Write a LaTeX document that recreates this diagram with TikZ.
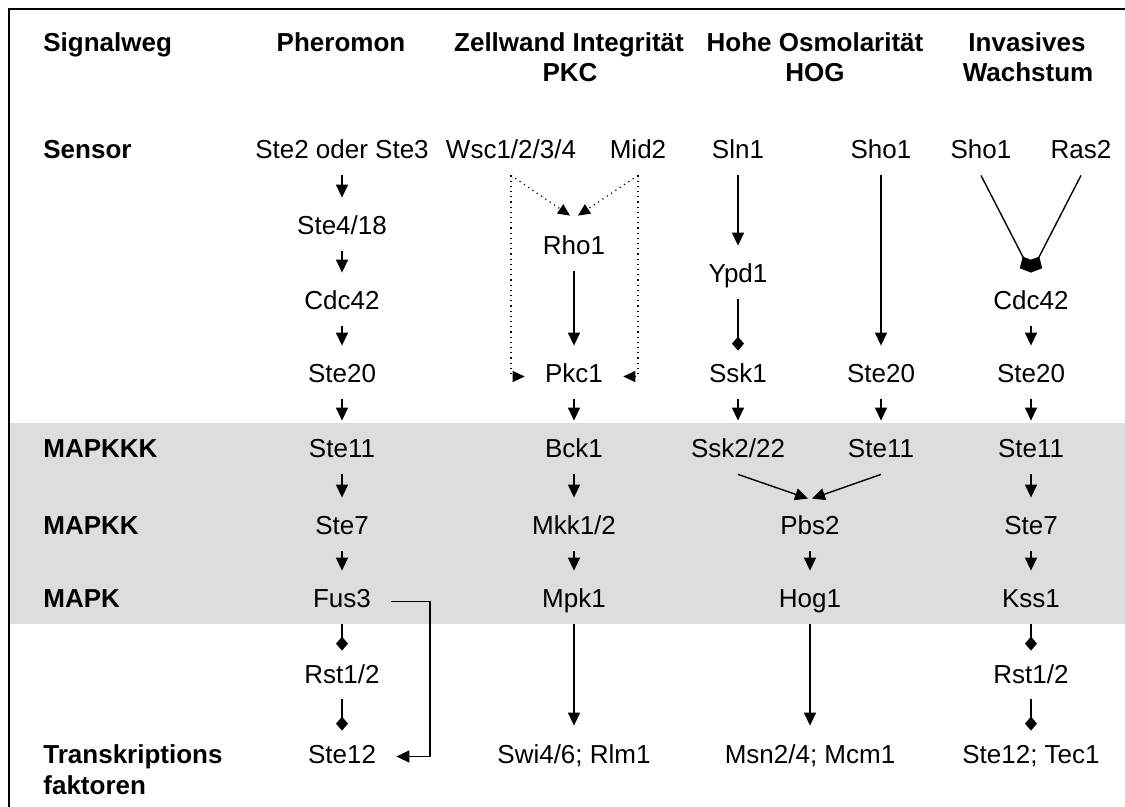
\documentclass[tikz,border=0pt]{standalone}
\usepackage{fontspec}
\setmainfont{Liberation Sans}
\usetikzlibrary{arrows.meta,calc}
\definecolor{bandgray}{RGB}{221,221,221}

\begin{document}
\begin{tikzpicture}[x=0.5pt,y=-0.5pt,
  txt/.style={font=\fontsize{13pt}{15pt}\selectfont,text height=9pt,text depth=2.5pt,inner xsep=2pt,inner ysep=5.5pt,anchor=base},
  hd/.style={txt,font=\fontsize{13pt}{15pt}\selectfont\bfseries},
  rowlbl/.style={hd,anchor=base west},
  act/.style={-{Triangle[length=6.5pt,width=6pt]},line width=0.7pt,shorten >=4pt},
  dia/.style={-{Diamond[length=7pt,width=6pt]},line width=0.7pt,shorten >=1.5pt},
  dotact/.style={dotted,line width=0.6pt,-{Triangle[length=6pt,width=5.5pt]}}]
\clip (0,0) rectangle (1125,807);
\fill[bandgray] (9,423) rectangle (1125,624);
\draw[line width=1pt] (9,9) rectangle (1140,820);

% Kopfzeile
\node[rowlbl] (hsig)  at (39,52)   {Signalweg};
\node[hd]     (hpher) at (341,52)  {Pheromon};
\node[hd]     (hzell) at (569,52)  {Zellwand Integrität};
\node[hd]     (hpkc)  at (570,82)  {PKC};
\node[hd]     (hosm)  at (815,52)  {Hohe Osmolarität};
\node[hd]     (hhog)  at (815,82)  {HOG};
\node[hd]     (hinv)  at (1027,52) {Invasives};
\node[hd]     (hwach) at (1028,82) {Wachstum};

% Zeilen
\node[rowlbl] (lsens) at (39,159) {Sensor};
\node[rowlbl] (lkkk)  at (39,458) {MAPKKK};
\node[rowlbl] (lkk)   at (39,535) {MAPKK};
\node[rowlbl] (lk)    at (39,608) {MAPK};
\node[rowlbl] (ltf)   at (39,763) {Transkriptions};
\node[rowlbl] (ltf2)  at (39,794) {faktoren};

% Pheromon
\node[txt] (ste2)   at (342,159) {Ste2 oder Ste3};
\node[txt] (ste4)   at (342,235) {Ste4/18};
\node[txt] (cdc42p) at (342,310) {Cdc42};
\node[txt] (ste20p) at (342,383) {Ste20};
\node[txt] (ste11p) at (342,458) {Ste11};
\node[txt] (ste7p)  at (342,535) {Ste7};
\node[txt] (fus3)   at (342,608) {Fus3};
\node[txt] (rst12p) at (342,683) {Rst1/2};
\node[txt] (ste12p) at (342,763) {Ste12};

% PKC
\node[txt] (wsc)   at (511,159) {Wsc1/2/3/4};
\node[txt] (mid2)  at (638,159) {Mid2};
\node[txt] (rho1)  at (574,255) {Rho1};
\node[txt] (pkc1)  at (574,383) {Pkc1};
\node[txt] (bck1)  at (574,458) {Bck1};
\node[txt] (mkk12) at (574,535) {Mkk1/2};
\node[txt] (mpk1)  at (574,608) {Mpk1};
\node[txt] (swi)   at (574,763) {Swi4/6; Rlm1};

% HOG
\node[txt] (sln1)   at (738,159) {Sln1};
\node[txt] (ypd1)   at (738,283) {Ypd1};
\node[txt] (ssk1)   at (738,383) {Ssk1};
\node[txt] (sho1h)  at (881,159) {Sho1};
\node[txt] (ste20h) at (881,383) {Ste20};
\node[txt] (ssk2)   at (738,458) {Ssk2/22};
\node[txt] (ste11h) at (881,458) {Ste11};
\node[txt] (pbs2)   at (810,535) {Pbs2};
\node[txt] (hog1)   at (810,608) {Hog1};
\node[txt] (msn)    at (810,763) {Msn2/4; Mcm1};

% Invasives Wachstum
\node[txt] (sho1i)  at (981,159)  {Sho1};
\node[txt] (ras2)   at (1081,159) {Ras2};
\node[txt] (cdc42i) at (1031,310) {Cdc42};
\node[txt] (ste20i) at (1031,383) {Ste20};
\node[txt] (ste11i) at (1031,458) {Ste11};
\node[txt] (ste7i)  at (1031,535) {Ste7};
\node[txt] (kss1)   at (1031,608) {Kss1};
\node[txt] (rst12i) at (1031,683) {Rst1/2};
\node[txt] (ste12i) at (1031,763) {Ste12; Tec1};

\path[act]
  (ste2)   edge (ste4)
  (ste4)   edge (cdc42p)
  (cdc42p) edge (ste20p)
  (ste20p) edge (ste11p)
  (ste11p) edge (ste7p)
  (ste7p)  edge (fus3)
  (rho1)   edge (pkc1)
  (pkc1)   edge (bck1)
  (bck1)   edge (mkk12)
  (mkk12)  edge (mpk1)
  (mpk1)   edge (swi)
  (sln1)   edge (ypd1)
  (sho1h)  edge (ste20h)
  (ssk1)   edge (ssk2)
  (ste20h) edge (ste11h)
  (pbs2)   edge (hog1)
  (hog1)   edge (msn)
  (cdc42i) edge (ste20i)
  (ste20i) edge (ste11i)
  (ste11i) edge (ste7i)
  (ste7i)  edge (kss1)
;
\path[dia]
  (fus3)   edge (rst12p)
  (rst12p) edge (ste12p)
  (ypd1)   edge (ssk1)
  (kss1)   edge (rst12i)
  (rst12i) edge (ste12i)
;
\draw[act,shorten >=0pt] (ssk2.south)   -- ([shift={(-1pt,3.5pt)}]pbs2.north);
\draw[act,shorten >=0pt] (ste11h.south) -- ([shift={(1pt,3.5pt)}]pbs2.north);
\draw[dia,-{Diamond[length=9pt,width=8pt]},shorten >=0pt] (sho1i.south) -- ([yshift=4pt]cdc42i.north);
\draw[dia,-{Diamond[length=9pt,width=8pt]},shorten >=0pt] (ras2.south)  -- ([yshift=4pt]cdc42i.north);
\draw[dotact] (wsc.south)  -- ([shift={(-2pt,5pt)}]rho1.north);
\draw[dotact] (mid2.south) -- ([shift={(2pt,5pt)}]rho1.north);
\draw[dotact] (wsc.south)  |- ([xshift=-8pt]pkc1.west);
\draw[dotact] (mid2.south) |- ([xshift=8pt]pkc1.east);
\coordinate (bend) at (430,0);
\draw[act,shorten <=8pt,shorten >=8pt] (fus3.east) -- (fus3.east -| bend) -- (ste12p.east -| bend) -- (ste12p.east);
\end{tikzpicture}
\end{document}
